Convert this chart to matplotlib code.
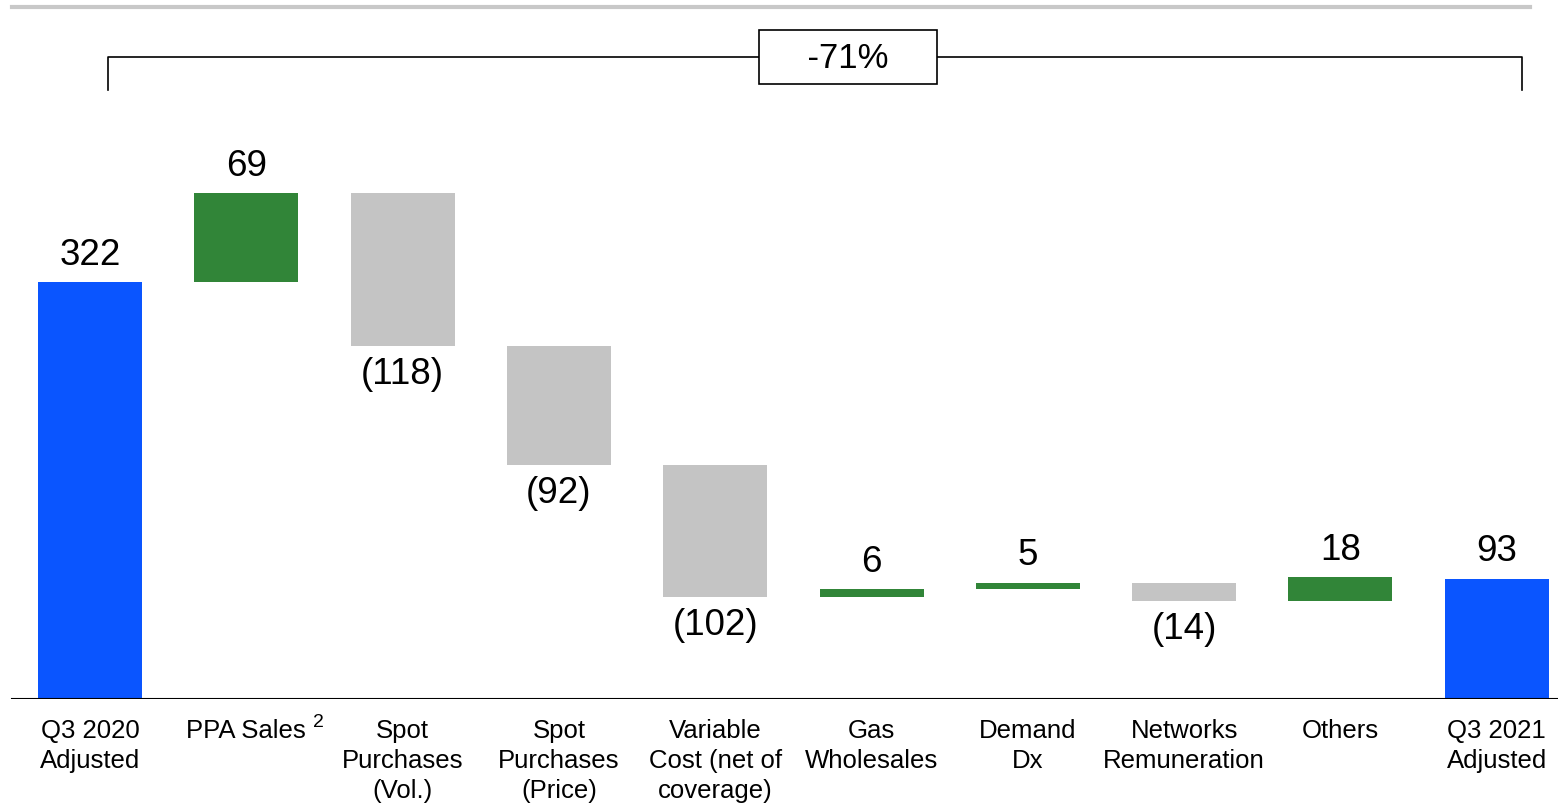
import numpy as np
import matplotlib.pyplot as plt

plt.rcParams['font.family'] = ['Liberation Sans', 'DejaVu Sans']

# data
categories = ['Q3 2020\nAdjusted', 'PPA Sales', 'Spot\nPurchases\n(Vol.)',
              'Spot\nPurchases\n(Price)', 'Variable\nCost (net of\ncoverage)',
              'Gas\nWholesales', 'Demand\nDx', 'Networks\nRemuneration',
              'Others', 'Q3 2021\nAdjusted']
values = [322, 69, -118, -92, -102, 6, 5, -14, 18, 93]
kinds = ['total', 'delta', 'delta', 'delta', 'delta', 'delta', 'delta', 'delta', 'delta', 'total']
change_label = '-71%'
footnote_idx = 1
footnote = '2'

BLUE = '#0A55FF'
GREEN = '#318538'
GREY = '#C4C4C4'

fig = plt.figure(figsize=(15.58, 8.04), dpi=100)
ax = fig.add_axes([0, 104 / 804, 1, 700 / 804])

px_unit = 1.294  # pixels per value unit
ax.set_ylim(0, 700 / px_unit)
ax.set_xlim(-90 / 156.3, (1558 - 90) / 156.3)
width = 104 / 156.3

running = 0
for i, (v, k) in enumerate(zip(values, kinds)):
    if k == 'total':
        bottom, height, col = 0, v, BLUE
        running = v
    else:
        if v >= 0:
            bottom, height, col = running, v, GREEN
        else:
            bottom, height, col = running + v, -v, GREY
        running += v
    ax.bar(i, height, bottom=bottom, width=width, color=col, zorder=2)
    if v >= 0:
        ax.text(i, bottom + height + 8, str(v), ha='center', va='bottom', fontsize=26.5)
    else:
        ax.text(i, bottom - 8, '(%d)' % -v, ha='center', va='top', fontsize=26.5)

# baseline
ax.axhline(0, xmin=12 / 1558, xmax=1, color='black', lw=1.5, zorder=3)

# top grey rule
ax.axhline(535, xmin=12 / 1558, xmax=1530 / 1558, color='#C8C8C8', lw=3, clip_on=False)

# bracket for total change
yb = 496
left = 0 + 18 / 156.3
right = len(values) - 1 + 25 / 156.3
ax.plot([left, left, right, right], [yb - 25, yb, yb, yb - 25], color='black', lw=1.2, zorder=2)
ax.text(4.85, yb, '    ' + change_label + '    ', ha='center', va='center', fontsize=25, zorder=4,
        bbox=dict(boxstyle='square,pad=0.3', fc='white', ec='black', lw=1.2))

ax.set_xticks(np.arange(len(categories)))
ax.set_xticklabels(categories, fontsize=18.5, linespacing=1.3, va='top')
ax.tick_params(axis='x', length=0, pad=14)
ax.set_yticks([])
for s in ax.spines.values():
    s.set_visible(False)

# footnote marker on PPA Sales
ax.annotate(footnote, xy=(footnote_idx, 0), xycoords='data', xytext=(48, -10),
            textcoords='offset points', ha='left', va='top', fontsize=14)

fig.savefig('out.png', dpi=100)
